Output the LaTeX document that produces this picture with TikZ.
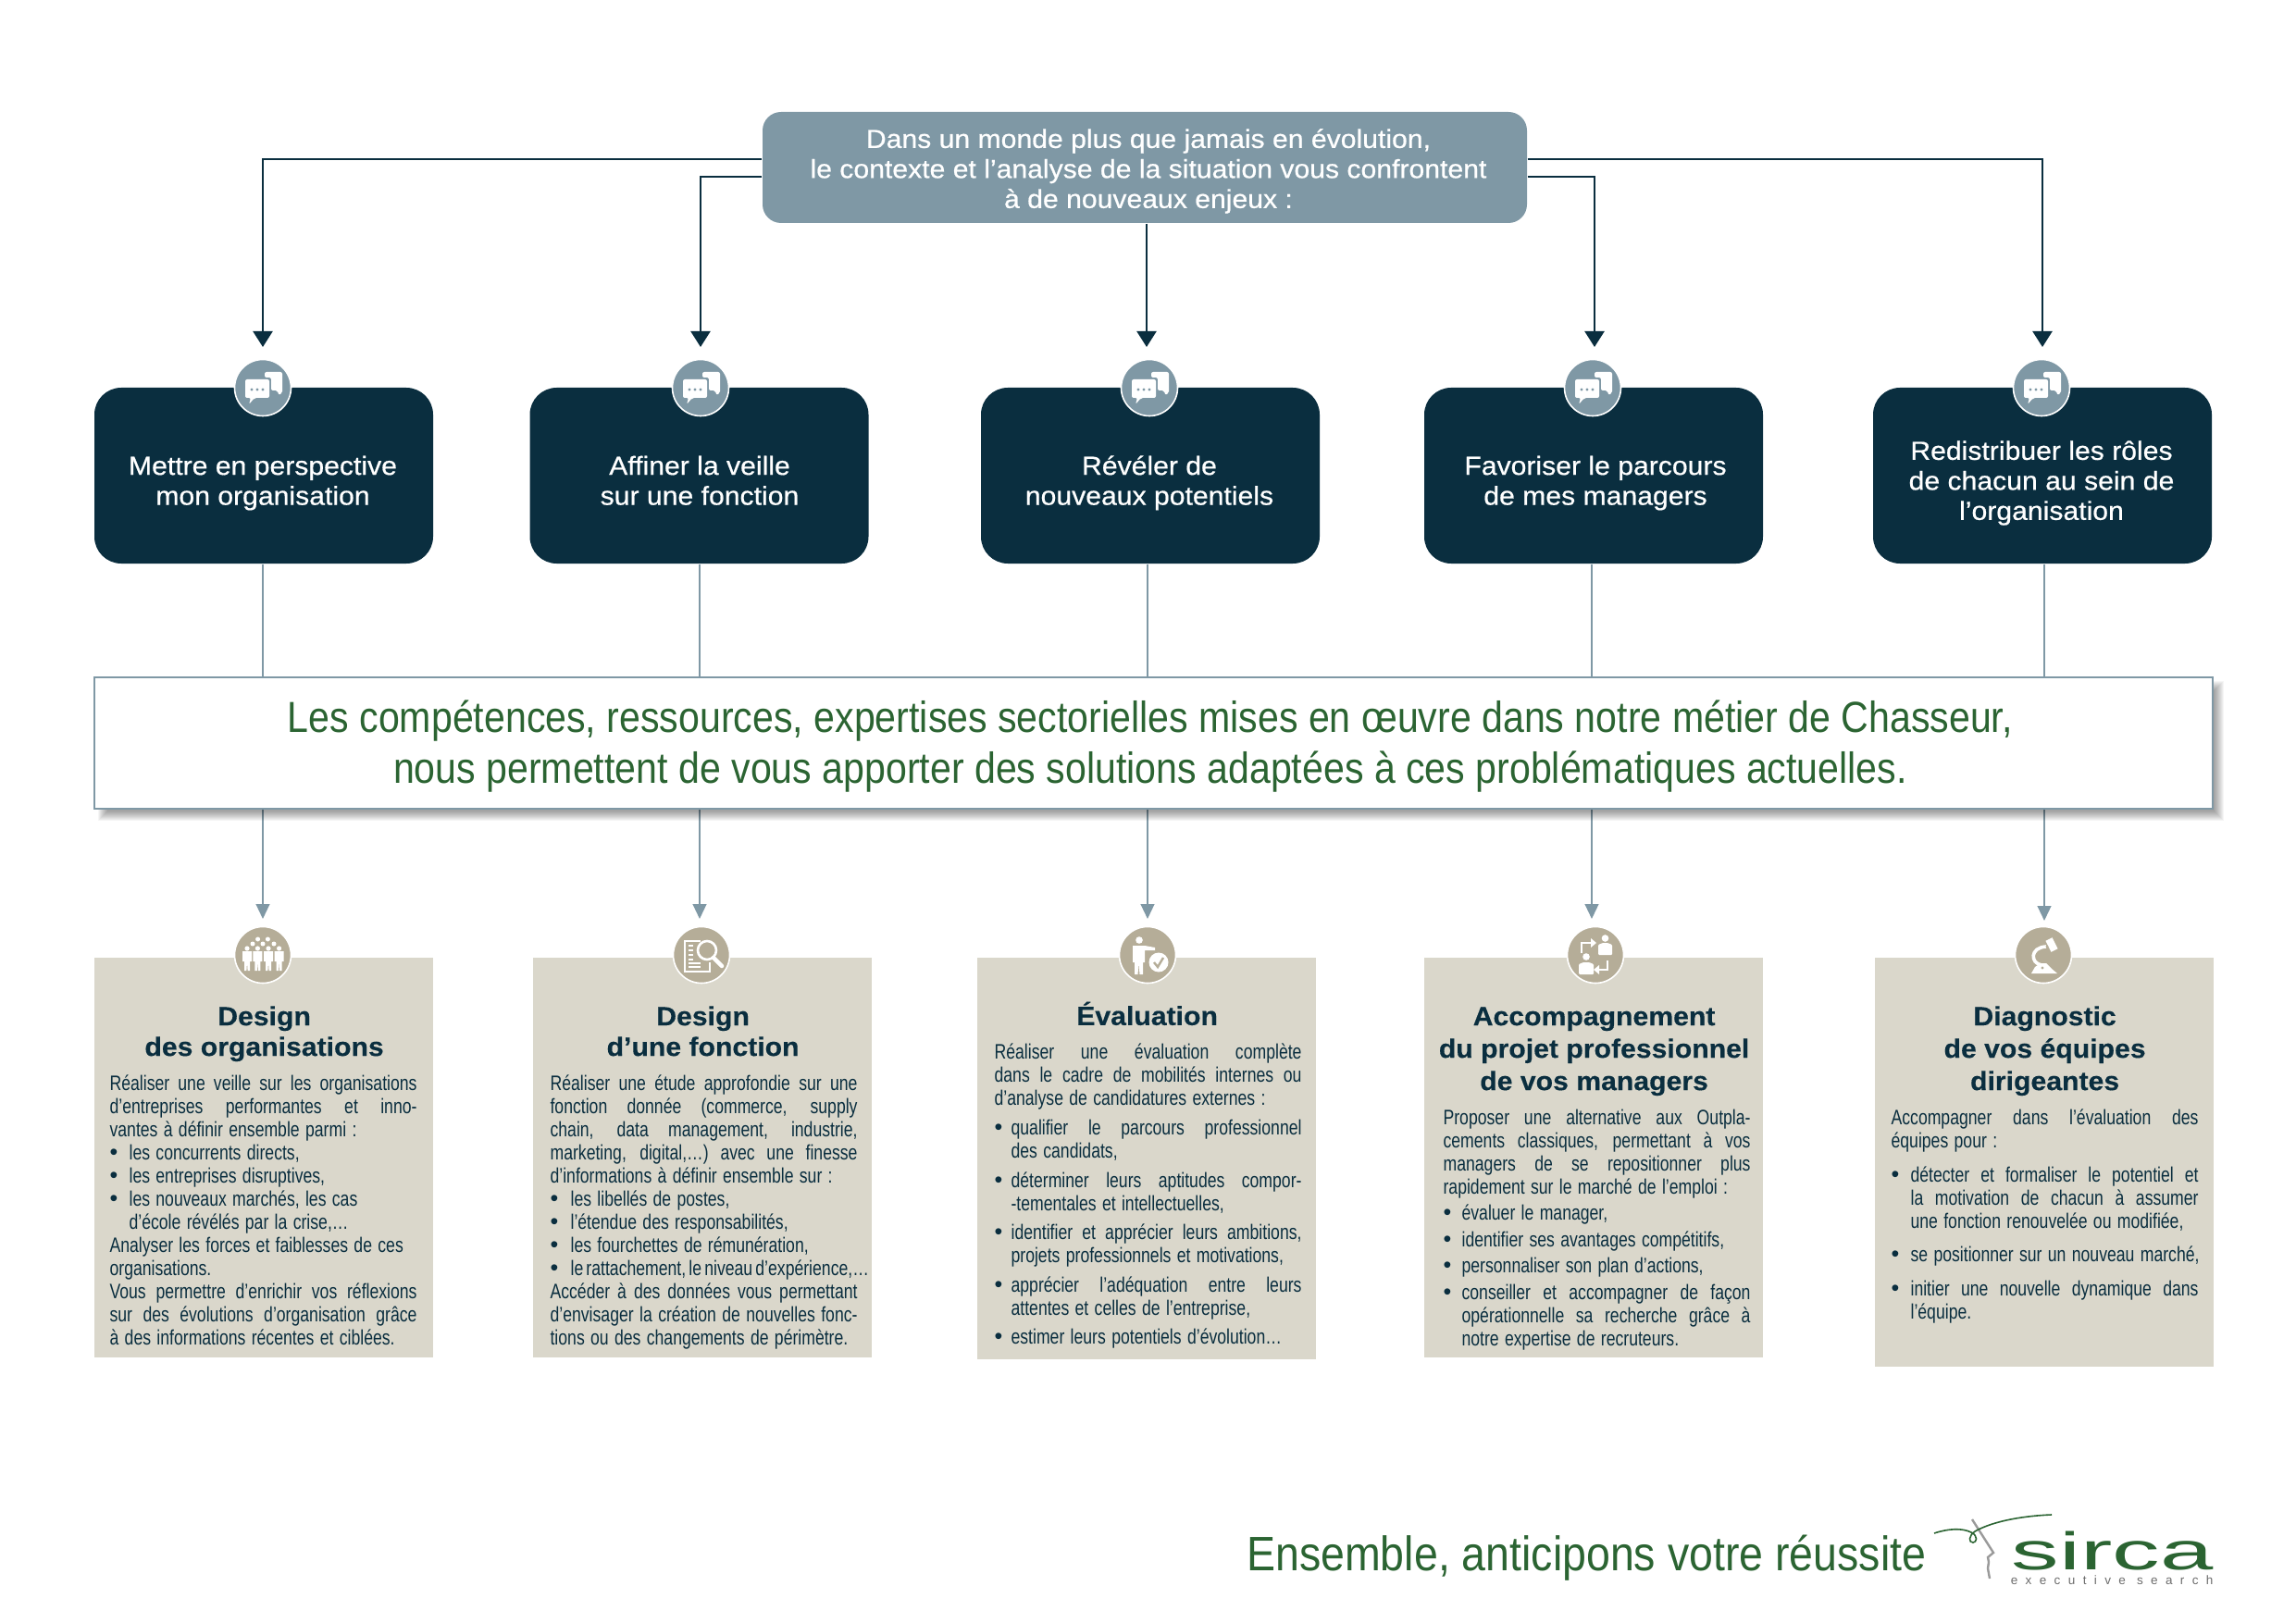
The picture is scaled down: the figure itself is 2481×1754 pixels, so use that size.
\documentclass[tikz,border=0pt]{standalone}
\usepackage{fontspec}
\usetikzlibrary{arrows.meta,calc}
\setmainfont{Liberation Sans}
\newfontfamily\headf[FakeStretch=1.07,FakeBold=0.6]{Liberation Sans}
\newfontfamily\bandf[FakeStretch=0.875]{Liberation Sans}
\newfontfamily\footf[FakeStretch=0.89]{Liberation Sans}
\newfontfamily\bodyf[FakeStretch=0.78]{Liberation Sans}
\newfontfamily\titlef[FakeStretch=1.06,FakeBold=0.3]{Liberation Sans Bold}
\newfontfamily\logof[FakeStretch=1.8]{Liberation Sans}
\newfontfamily\tagf[LetterSpace=62]{Liberation Sans}
\newfontfamily\dotf{Liberation Sans}
\definecolor{navy}{HTML}{0A2E3F}
\definecolor{slate}{HTML}{7F98A5}
\definecolor{sand}{HTML}{DAD7CB}
\definecolor{taupe}{HTML}{B5AD98}
\definecolor{leaf}{HTML}{2B6432}
\definecolor{ash}{HTML}{9A9A9A}
\newdimen\pxu \pxu=0.3406pt
% text-block helpers: every line is its own box with a fixed baseline step
\newdimen\stH \newdimen\stD \newdimen\bi
\newcommand\St{\vrule height\stH depth\stD width0pt}
\newcommand\Jl[1]{\hbox to\hsize{\St #1}}
\newcommand\Ll[1]{\hbox to\hsize{\St #1\hss}}
\newcommand\Cl[1]{\hbox to\hsize{\hss\St #1\hss}}
\newcommand\Dot{\hbox to\bi{\hbox{\dotf\fontsize{8.5}{8.5}\selectfont\textbullet}\hss}}
\newcommand\Bj[1]{\hbox to\hsize{\St\Dot #1}}
\newcommand\Bl[1]{\hbox to\hsize{\St\Dot #1\hss}}
\newcommand\Ij[1]{\hbox to\hsize{\St\hbox to\bi{\hss}#1}}
\newcommand\Il[1]{\hbox to\hsize{\St\hbox to\bi{\hss}#1\hss}}
\newcommand\Gap[1]{\vskip#1\pxu}
\newcommand\BodyBlock[2]{\vtop{\hsize=332\pxu \lineskiplimit=-100pt \baselineskip=25\pxu \stH=17.5\pxu \stD=7.5\pxu \bi=#1\pxu \parskip=0pt \spaceskip=0.28em plus 6em minus 0.1em #2}}
\newcommand\TitleBlock[2]{\vtop{\hsize=366\pxu \lineskiplimit=-100pt \baselineskip=#1\pxu \stH=24\pxu \stD=8\pxu \parskip=0pt #2}}
% struts that pin first and last lines so labels centre alike
\newcommand\Up{\vrule height 7.2pt depth 0pt width 0pt}
\newcommand\Dn{\vrule height 0pt depth 2.2pt width 0pt}
\newcommand\UpB{\vrule height 12pt depth 0pt width 0pt}
\newcommand\DnB{\vrule height 0pt depth 3.6pt width 0pt}
% white pictograms, drawn around the centre of their disc
\newcommand\BubbleGlyph[1]{\begin{scope}[shift={(#1)}]
  \fill[white,rounded corners=2\pxu] (2,-17) -- (21,-17) -- (21,6) -- (17,8) -- (16,3) -- (9,3) -- (9,-11) -- (2,-11) -- cycle;
  \fill[white,rounded corners=2\pxu] (-19,-9) -- (7,-9) -- (7,11) -- (-9,11) -- (-15,18) -- (-13,11) -- (-19,11) -- cycle;
  \fill[slate] (-12,2) circle[radius=1.7] (-6,2) circle[radius=1.7] (0,2) circle[radius=1.7];
\end{scope}}
\newcommand\Man[1]{\fill[white] (#1,-7) circle[radius=2.6];
  \fill[white] ($(#1,-4)+(-5,0)$) -- ($(#1,-4)+(5,0)$) -- ($(#1,7)+(5,0)$) -- ($(#1,7)+(3,0)$) -- ($(#1,17)+(3,0)$) -- ($(#1,17)+(0.6,0)$) -- ($(#1,8)+(0,0)$) -- ($(#1,17)+(-0.6,0)$) -- ($(#1,17)+(-3,0)$) -- ($(#1,7)+(-3,0)$) -- ($(#1,7)+(-5,0)$) -- cycle;}
\newcommand\CrowdGlyph[1]{\begin{scope}[shift={(#1)}]
  \foreach \hx/\hy in {-11/-12,0/-12,12/-12,-5.4/-17,5.4/-17}{\fill[white] (\hx,\hy) circle[radius=2.5];}
  \Man{-17}\Man{-5.6}\Man{6}\Man{17.6}
\end{scope}}
\newcommand\LensGlyph[1]{\begin{scope}[shift={(#1)}]
  \draw[white,line width=1.6\pxu] (-1,-15) -- (-18,-15) -- (-18,18) -- (9,18) -- (9,8);
  \foreach \ly/\lx in {-10/-9,-5/-9,0/-9,5/-9,9/-1,13/-1}{\draw[white,line width=1.6\pxu] (-14,\ly) -- (\lx,\ly);}
  \draw[white,line width=2.6\pxu] (6,-5) circle[radius=10];
  \draw[white,line width=4.5\pxu,line cap=round] (13,3) -- (22,12);
\end{scope}}
\newcommand\CheckGlyph[1]{\begin{scope}[shift={(#1)}]
  \fill[white] (-9,-16) circle[radius=3.8];
  \fill[white] (-16,-10) -- (-3,-10) -- (8,-8) -- (8,-5) -- (-3,-5) -- (-3,8) -- (-5,8) -- (-5,21) -- (-8.5,21) -- (-9.5,9) -- (-10.5,21) -- (-14,21) -- (-14,8) -- (-16,8) -- cycle;
  \fill[white] (12,8) circle[radius=10.5];
  \draw[taupe,line width=2.4\pxu] (7,8) -- (11,13) -- (17,3);
\end{scope}}
\newcommand\SwapGlyph[1]{\begin{scope}[shift={(#1)}]
  \fill[white] (10.5,-18) circle[radius=3.8] (-10,2) circle[radius=3.8];
  \fill[white,rounded corners=1\pxu] (3,0) -- (3,-11) -- (8,-13) -- (13,-13) -- (18,-11) -- (18,0) -- cycle;
  \fill[white,rounded corners=1\pxu] (-18,21) -- (-18,10) -- (-13,8) -- (-7,8) -- (-2,10) -- (-2,21) -- cycle;
  \draw[white,line width=2.8\pxu] (-15,-2) -- (-15,-13) -- (-5,-13);
  \fill[white] (-5,-18) -- (1,-13) -- (-5,-8) -- cycle;
  \draw[white,line width=2.8\pxu] (13,6) -- (13,16) -- (4,16);
  \fill[white] (4,11) -- (-2,16) -- (4,21) -- cycle;
\end{scope}}
\newcommand\ScopeGlyph[1]{\begin{scope}[shift={(#1)}]
  \draw[white,line width=8\pxu] (6,-17) -- (12,-5);
  \draw[white,line width=3.6\pxu] (3,-9) .. controls (-15,-8) and (-14,9) .. (-2,11);
  \fill[white] (-13,20) -- (-9,13) -- (-3,9) -- (3,9) -- (9,15) -- (15,20) -- cycle;
  \fill[taupe] (4,-9) circle[radius=1.6] (-1,14) circle[radius=1.6];
\end{scope}}
\tikzset{
  darkline/.style={draw=navy,line width=2\pxu,-{Triangle[length=5.8pt,width=7.2pt]}},
  paleline/.style={draw=slate,line width=1.8\pxu},
  palearrow/.style={paleline,-{Triangle[length=5.4pt,width=5pt]}},
  topbox/.style={fill=slate,draw=none,rounded corners=20\pxu,minimum width=826\pxu,minimum height=120\pxu,inner sep=0pt},
  toplabel/.style={text=white,align=center,inner sep=0pt,font=\headf\fontsize{9.6}{11.05}\selectfont},
  darkbox/.style={fill=navy,draw=none,rounded corners=29\pxu,minimum width=366\pxu,minimum height=190\pxu,inner sep=0pt},
  boxlabel/.style={text=white,align=center,inner sep=0pt,font=\headf\fontsize{9.6}{11.05}\selectfont},
  band/.style={fill=white,draw=slate,line width=2\pxu,minimum width=2289\pxu,minimum height=142\pxu,inner sep=0pt},
  bandlabel/.style={text=leaf,align=center,inner sep=0pt,font=\bandf\fontsize{16}{18.8}\selectfont},
  card/.style={fill=sand,draw=none,inner sep=0pt,minimum width=366\pxu},
  heading/.style={anchor=north west,inner sep=0pt,text=navy,font=\titlef\fontsize{9.7}{11}\selectfont},
  body/.style={anchor=north west,inner sep=0pt,text=navy,font=\bodyf\fontsize{7.7}{8.5}\selectfont},
  topdisc/.style={circle,fill=slate,draw=white,line width=1.6\pxu,minimum size=61\pxu,inner sep=0pt},
  lowdisc/.style={circle,fill=taupe,draw=white,line width=1.6\pxu,minimum size=61\pxu,inner sep=0pt}
}
\begin{document}
\begin{tikzpicture}[x=\pxu,y=-\pxu]
\useasboundingbox (0,0) rectangle (2481,1754);
% arrow ends and the upper band of boxes
\coordinate (tipA) at (284,375);
\coordinate (tipB) at (757,375);
\coordinate (tipC) at (1239,375);
\coordinate (tipD) at (1723,375);
\coordinate (tipE) at (2207,375);
\coordinate (lowA) at (284,993);
\coordinate (lowB) at (756,993);
\coordinate (lowC) at (1240,993);
\coordinate (lowD) at (1720,993);
\coordinate (lowE) at (2209,995);
\coordinate (railO) at (0,172);
\coordinate (railI) at (0,191);
\node[topbox] (top) at (1237,181) {};
\node[toplabel] (toptext) at (1241,185) {\Up Dans un monde plus que jamais en évolution,\\le contexte et l’analyse de la situation vous confrontent\\à de nouveaux enjeux :\Dn};
\node[darkbox] (boxA) at (285,514) {};
\node[darkbox] (boxB) at (755.5,514) {};
\node[darkbox] (boxC) at (1243,514) {};
\node[darkbox] (boxD) at (1722,514) {};
\node[darkbox] (boxE) at (2207,514) {};
% connectors from the question box
\draw[darkline] (top.west |- railO) -| (tipA);
\draw[darkline] (top.west |- railI) -| (tipB);
\draw[darkline] (top.south -| tipC) -- (tipC);
\draw[darkline] (top.east |- railI) -| (tipD);
\draw[darkline] (top.east |- railO) -| (tipE);
% connectors running behind the band
\draw[palearrow] (boxA.south -| lowA) -- (lowA);
\draw[palearrow] (boxB.south -| lowB) -- (lowB);
\draw[palearrow] (boxC.south -| lowC) -- (lowC);
\draw[palearrow] (boxD.south -| lowD) -- (lowD);
\draw[palearrow] (boxE.south -| lowE) -- (lowE);
% soft shadow under the band
\foreach \d in {0,1,...,10}{
  \fill[black,opacity=0.04] (106+\d,736+\d) rectangle (2403-\d,887-\d);
}
\node[band] (bandbox) at (1246.5,803) {};
\node[bandlabel] (bandtext) at (1243,807) {\UpB Les compétences, ressources, expertises sectorielles mises en œuvre dans notre métier de Chasseur,\\nous permettent de vous apporter des solutions adaptées à ces problématiques actuelles.\DnB};
\node[boxlabel] (lblA) at (284,522) {\Up Mettre en perspective\\mon organisation\Dn};
\node[boxlabel] (lblB) at (756,522) {\Up Affiner la veille\\sur une fonction\Dn};
\node[boxlabel] (lblC) at (1242,522) {\Up Révéler de\\nouveaux potentiels\Dn};
\node[boxlabel] (lblD) at (1724,522) {\Up Favoriser le parcours\\de mes managers\Dn};
\node[boxlabel] (lblE) at (2206,522) {\Up Redistribuer les rôles\\de chacun au sein de\\l’organisation\Dn};
\node[topdisc] (discA) at (284,419) {};
\node[topdisc] (discB) at (757,419) {};
\node[topdisc] (discC) at (1242,419) {};
\node[topdisc] (discD) at (1721,419) {};
\node[topdisc] (discE) at (2206,419) {};
\BubbleGlyph{discA.center}
\BubbleGlyph{discB.center}
\BubbleGlyph{discC.center}
\BubbleGlyph{discD.center}
\BubbleGlyph{discE.center}
% solution cards
\node[card,minimum height=432\pxu] (cardA) at (285,1250.5) {};
\node[card,minimum height=432\pxu] (cardB) at (759,1250.5) {};
\node[card,minimum height=434\pxu] (cardC) at (1239,1251.5) {};
\node[card,minimum height=432\pxu] (cardD) at (1722,1250.5) {};
\node[card,minimum height=442\pxu] (cardE) at (2209,1255.5) {};
\node[lowdisc] (lowdiscA) at (284,1032) {};
\node[lowdisc] (lowdiscB) at (758,1032) {};
\node[lowdisc] (lowdiscC) at (1240,1032) {};
\node[lowdisc] (lowdiscD) at (1724,1032) {};
\node[lowdisc] (lowdiscE) at (2208,1032) {};
\CrowdGlyph{lowdiscA.center}
\LensGlyph{lowdiscB.center}
\CheckGlyph{lowdiscC.center}
\SwapGlyph{lowdiscD.center}
\ScopeGlyph{lowdiscE.center}
% headings
\node[heading] (headA) at (102,1083.5) {\TitleBlock{33}{\Cl{Design}\Cl{des organisations}}};
\node[heading] (headB) at (576,1083.5) {\TitleBlock{33}{\Cl{Design}\Cl{d’une fonction}}};
\node[heading] (headC) at (1056,1082) {\TitleBlock{33}{\Cl{Évaluation}}};
\node[heading] (headD) at (1539,1083.5) {\TitleBlock{35}{\Cl{Accompagnement}\Cl{du projet professionnel}\Cl{de vos managers}}};
\node[heading] (headE) at (2026,1083.5) {\TitleBlock{35}{\Cl{Diagnostic}\Cl{de vos équipes}\Cl{dirigeantes}}};
% body copy
\node[body] (textA) at (118,1160) {\BodyBlock{21}{
\Jl{Réaliser une veille sur les organisations}
\Jl{d’entreprises performantes et inno-}
\Ll{vantes à définir ensemble parmi :}
\Bl{les concurrents directs,}
\Bl{les entreprises disruptives,}
\Bl{les nouveaux marchés, les cas}
\Il{d’école révélés par la crise,…}
\Ll{Analyser les forces et faiblesses de ces}
\Ll{organisations.}
\Jl{Vous permettre d’enrichir vos réflexions}
\Jl{sur des évolutions d’organisation grâce}
\Ll{à des informations récentes et ciblées.}}};
\node[body] (textB) at (594,1160) {\BodyBlock{22}{
\Jl{Réaliser une étude approfondie sur une}
\Jl{fonction donnée (commerce, supply}
\Jl{chain, data management, industrie,}
\Jl{marketing, digital,…) avec une finesse}
\Ll{d’informations à définir ensemble sur :}
\Bl{les libellés de postes,}
\Bl{l’étendue des responsabilités,}
\Bl{les fourchettes de rémunération,}
\Bl{\spaceskip=0.14em le rattachement, le niveau d’expérience,…}
\Jl{Accéder à des données vous permettant}
\Jl{d’envisager la création de nouvelles fonc-}
\Ll{tions ou des changements de périmètre.}}};
\node[body] (textC) at (1074,1126) {\BodyBlock{18}{
\Jl{Réaliser une évaluation complète}
\Jl{dans le cadre de mobilités internes ou}
\Ll{d’analyse de candidatures externes :}
\Gap{7}\Bj{qualifier le parcours professionnel}
\Il{des candidats,}
\Gap{7}\Bj{déterminer leurs aptitudes compor-}
\Il{-tementales et intellectuelles,}
\Gap{6}\Bj{identifier et apprécier leurs ambitions,}
\Il{projets professionnels et motivations,}
\Gap{7}\Bj{apprécier l’adéquation entre leurs}
\Il{attentes et celles de l’entreprise,}
\Gap{6}\Bl{estimer leurs potentiels d’évolution…}}};
\node[body] (textD) at (1559,1197) {\BodyBlock{20}{
\Jl{Proposer une alternative aux Outpla-}
\Jl{cements classiques, permettant à vos}
\Jl{managers de se repositionner plus}
\Ll{rapidement sur le marché de l’emploi :}
\Gap{3}\Bl{évaluer le manager,}
\Gap{4}\Bl{identifier ses avantages compétitifs,}
\Gap{3}\Bl{personnaliser son plan d’actions,}
\Gap{4}\Bj{conseiller et accompagner de façon}
\Ij{opérationnelle sa recherche grâce à}
\Il{notre expertise de recruteurs.}}};
\node[body] (textE) at (2043,1197) {\BodyBlock{21}{
\Jl{Accompagner dans l’évaluation des}
\Ll{équipes pour :}
\Gap{12}\Bj{détecter et formaliser le potentiel et}
\Ij{la motivation de chacun à assumer}
\Il{une fonction renouvelée ou modifiée,}
\Gap{11}\Bl{se positionner sur un nouveau marché,}
\Gap{12}\Bj{initier une nouvelle dynamique dans}
\Il{l’équipe.}}};
% closing line and signature
\node[anchor=base east,inner sep=0pt,text=leaf,font=\footf\fontsize{17.8}{20}\selectfont] (motto) at (2082,1697) {Ensemble, anticipons votre réussite};
\draw[ash,line width=2.4\pxu] (2131,1642) -- (2154,1678) -- (2148,1683) -- (2149,1688) -- (2148,1695) -- (2150,1706);
\draw[leaf,line width=1.6\pxu] (2090,1657) .. controls (2105,1652) and (2120,1651) .. (2130,1656) .. controls (2138,1660) and (2136,1667) .. (2132,1667) .. controls (2127,1667) and (2127,1660) .. (2134,1655) .. controls (2155,1643) and (2190,1638) .. (2217,1637);
\node[anchor=base east,inner sep=0pt,text=leaf,font=\logof\fontsize{19.5}{20}\selectfont] (brand) at (2392,1696) {sirca};
\node[anchor=base east,inner sep=0pt,text=ash!70!black,font=\tagf\fontsize{4.6}{5}\selectfont] (tagline) at (2392,1712) {executive search};
\end{tikzpicture}
\end{document}
